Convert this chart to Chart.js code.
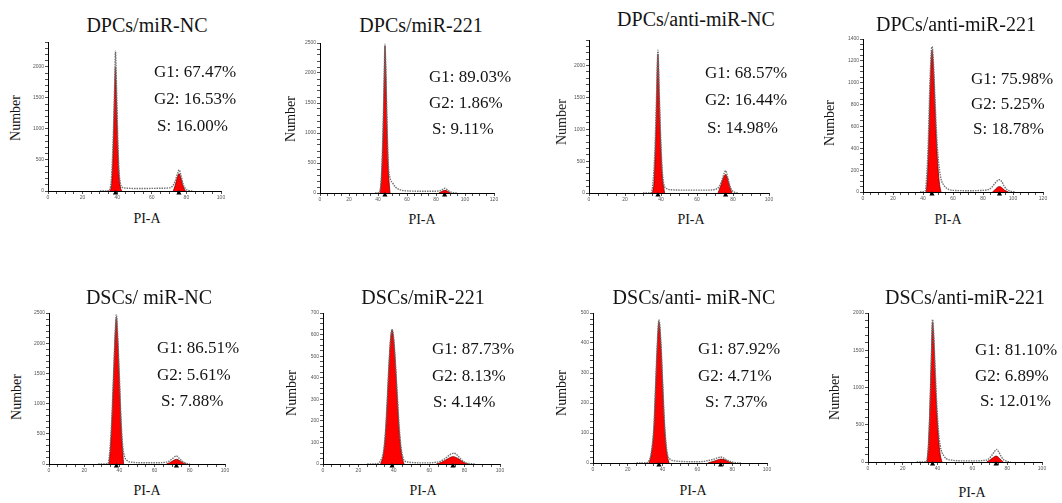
<!DOCTYPE html>
<html>
<head>
<meta charset="utf-8">
<script src="https://cdn.jsdelivr.net/npm/chart.js@4.4.1/dist/chart.umd.min.js"></script>
<style>
  html, body { margin: 0; padding: 0; background: #fff; }
  #page { position: relative; width: 1062px; height: 503px; overflow: hidden; background: #fff; }
  #page canvas { position: absolute; }
  .txt { position: absolute; font-family: "Liberation Serif", "DejaVu Serif", serif; color: #141414; white-space: nowrap; line-height: 1; }
  .title { font-size: 20px; transform: translate(-50%, -50%); }
  .stat { font-size: 17px; transform: translateY(-50%); }
  .xlab { font-size: 14px; transform: translate(-50%, -50%); }
  .ylab { font-size: 14px; transform: translate(-50%, -50%) rotate(-90deg); }
</style>
</head>
<body>
<div id="page"></div>
<script>
// panel titles and cell-cycle percentages
const panelTitles = [
  "DPCs/miR-NC", "DPCs/miR-221", "DPCs/anti-miR-NC", "DPCs/anti-miR-221",
  "DSCs/ miR-NC", "DSCs/miR-221", "DSCs/anti- miR-NC", "DSCs/anti-miR-221",
];
const g1Pct = [67.47, 89.03, 68.57, 75.98, 86.51, 87.73, 87.92, 81.10];
const g2Pct = [16.53, 1.86, 16.44, 5.25, 5.61, 8.13, 4.71, 6.89];
const sPct = [16.00, 9.11, 14.98, 18.78, 7.88, 4.14, 7.37, 12.01];

// axis ranges / tick steps
const xMaxes = [100, 120, 100, 120, 100, 100, 100, 100];
const yMaxes = [2400, 2500, 2400, 1400, 2500, 700, 500, 2000];
const yMajor = [500, 500, 500, 200, 500, 100, 100, 500];
const yMinor = [100, 100, 100, 50, 100, 25, 20, 100];

// G1 / G2 peak markers (PI-A)
const g1Mark = [39, 44.8, 38.3, 46, 38.3, 39, 37.9, 37.1];
const g2Mark = [75.7, 86, 75.9, 91, 72.4, 73.4, 73.4, 73.6];

// histograms: [PI-A, count]
const dpcNcLine = [[30,0],[35,5],[36.5,150],[37.5,700],[38.5,1700],[39,2250],[39.6,1700],[40.3,900],[41,350],[42,110],[43,60],[46,45],[52,40],[60,42],[66,45],[70,50],[72,80],[73.5,160],[75,290],[75.8,340],[76.8,260],[78,120],[79.5,35],[81,10],[84,0]];
const dpcNcG1 = [[35.8,0],[36.8,120],[37.6,600],[38.4,1450],[39,2000],[39.6,1450],[40.3,750],[41,280],[41.8,70],[42.6,0]];
const dpcNcG2 = [[72.4,0],[73.5,90],[74.8,220],[75.7,280],[76.7,220],[78,90],[79.4,0]];

const dpc221Line = [[38,0],[41,10],[42.5,350],[43.5,1100],[44.3,2000],[44.8,2480],[45.5,2000],[46.3,1100],[47.2,450],[48.3,250],[50,170],[52,100],[55,55],[60,35],[70,30],[80,30],[83,40],[85,65],[86,80],[87.5,60],[89.5,25],[92,5],[95,0]];
const dpc221G1 = [[41.4,0],[42.5,300],[43.5,1000],[44.3,1900],[44.8,2450],[45.5,1900],[46.3,1000],[47.2,350],[48.3,0]];
const dpc221G2 = [[82,0],[84,25],[86,45],[88,30],[90,0]];

const dpcAntiNcLine = [[30,0],[34.5,5],[35.5,150],[36.5,600],[37.5,1500],[38.3,2240],[39,1600],[39.8,900],[40.6,400],[41.5,150],[43,70],[46,50],[55,45],[65,45],[70,55],[72,90],[73.5,170],[75,300],[75.9,350],[77,250],[78.3,110],[79.5,40],[81,10],[83,0]];
const dpcAntiNcG1 = [[35.2,0],[36.2,200],[37.2,1000],[38.3,2180],[39,1550],[39.8,800],[40.7,280],[42,0]];
const dpcAntiNcG2 = [[71.7,0],[73,100],[74.6,230],[75.9,290],[77,220],[78.3,90],[79.4,0]];

const dpcAnti221Line = [[38,0],[41.5,10],[42.5,150],[43.5,450],[44.5,950],[45.5,1280],[46,1330],[47,1180],[48,850],[49,550],[50,330],[51,200],[52,120],[54,60],[57,25],[60,15],[70,12],[80,15],[84,25],[86,45],[88,80],[90,108],[91,112],[92.5,95],[94,55],[96,22],[98,8],[101,0]];
const dpcAnti221G1 = [[42.2,0],[43,150],[44,550],[45,1050],[46,1300],[47,1120],[48,780],[49,450],[50,220],[51,70],[52,0]];
const dpcAnti221G2 = [[86.4,0],[88,22],[89.5,42],[91,50],[92.5,40],[94.5,15],[96.9,0]];

const dscNcLine = [[28,0],[33.5,5],[34.5,200],[35.5,650],[36.5,1350],[37.5,2100],[38.3,2470],[39,2150],[40,1450],[41,700],[42,270],[43,120],[44.5,55],[47,30],[55,20],[62,20],[66,28],[68,45],[70,85],[72.4,133],[74,95],[76,40],[78,12],[80,0]];
const dscNcG1 = [[34.1,0],[35,300],[36,900],[37,1700],[38.3,2430],[39,2100],[40,1380],[41,620],[42,150],[42.4,0]];
const dscNcG2 = [[66.7,0],[68.5,20],[70.5,55],[72.4,78],[74,60],[76,22],[78,0]];

const dsc221Line = [[25,0],[31,2],[32.5,15],[34,50],[35,120],[36,250],[37,420],[38,560],[39,625],[40,580],[41,460],[42,320],[43,180],[44,85],[45,35],[46,15],[48,9],[52,6],[58,5],[63,7],[66,12],[68,20],[70,32],[72,45],[74,50],[76,40],[78,22],[80,8],[83,2],[86,0]];
const dsc221G1 = [[32.6,0],[34,40],[35,110],[36,240],[37,410],[38,560],[39,620],[40,570],[41,450],[42,300],[43,160],[44,70],[45,20],[45.8,0]];
const dsc221G2 = [[64,0],[67,8],[70,22],[73.4,34],[76,27],[79,10],[82,0]];

const dscAntiNcLine = [[25,0],[31,1],[32.2,8],[33.5,35],[35,125],[36,265],[37,405],[37.9,478],[39,405],[40,275],[41,145],[42,65],[43,25],[44.5,12],[47,7],[52,5],[58,4],[63,5],[66,8],[69,12],[72,18],[73.4,20],[75,17],[77,10],[79,5],[82,1],[85,0]];
const dscAntiNcG1 = [[32.2,0],[33.5,30],[35,115],[36,255],[37,395],[37.9,470],[39,395],[40,265],[41,135],[42,55],[43,15],[43.7,0]];
const dscAntiNcG2 = [[66,0],[69,5],[72,11],[73.4,13],[76,10],[78,4],[80.5,0]];

const dscAnti221Line = [[28,0],[33.5,5],[34.5,150],[35.5,650],[36.3,1300],[37.1,1910],[37.8,1700],[38.7,1200],[39.6,750],[40.5,420],[41.5,220],[42.5,130],[43.5,85],[45,45],[48,25],[55,15],[62,15],[67,22],[69,35],[71,85],[73,150],[73.8,170],[75,140],[76.5,75],[78,30],[80,8],[82,0]];
const dscAnti221G1 = [[33.9,0],[34.8,250],[35.6,750],[36.4,1400],[37.1,1880],[37.8,1650],[38.7,1100],[39.6,650],[40.5,320],[41.5,100],[42.5,0]];
const dscAnti221G2 = [[68.2,0],[70,25],[72,60],[73.6,80],[75,62],[76.5,25],[77.8,0]];

const lines = [dpcNcLine, dpc221Line, dpcAntiNcLine, dpcAnti221Line, dscNcLine, dsc221Line, dscAntiNcLine, dscAnti221Line];
const g1Fills = [dpcNcG1, dpc221G1, dpcAntiNcG1, dpcAnti221G1, dscNcG1, dsc221G1, dscAntiNcG1, dscAnti221G1];
const g2Fills = [dpcNcG2, dpc221G2, dpcAntiNcG2, dpcAnti221G2, dscNcG2, dsc221G2, dscAntiNcG2, dscAnti221G2];

// page layout: plot box (L,R,T,B) and text anchors
const LAYOUT = [
  { L: 48, R: 221, T: 42, B: 191, title: [147, 25], stats: [[154, 71], [154, 98], [157, 125]], ylab: [16, 118], xlab: [147, 219] },
  { L: 320, R: 494, T: 43, B: 193, title: [421, 25], stats: [[429, 76], [429, 102], [432, 128]], ylab: [291, 119], xlab: [422, 220] },
  { L: 589, R: 769, T: 40, B: 193, title: [696, 19], stats: [[705, 72], [705, 99], [707, 127]], ylab: [562, 122], xlab: [691, 220] },
  { L: 863, R: 1043, T: 39, B: 192, title: [956, 24], stats: [[971, 78], [971, 103], [973, 128]], ylab: [830, 123], xlab: [948, 220] },
  { L: 49, R: 225, T: 313, B: 464, title: [149, 297], stats: [[157, 347], [157, 374], [161, 400]], ylab: [17, 397], xlab: [147, 491] },
  { L: 323, R: 500, T: 313, B: 464, title: [423, 297], stats: [[432, 348], [432, 375], [433, 401]], ylab: [292, 393], xlab: [423, 491] },
  { L: 593, R: 767, T: 313, B: 463, title: [694, 297], stats: [[698, 348], [698, 375], [705, 401]], ylab: [562, 393], xlab: [693, 491] },
  { L: 868, R: 1042, T: 313, B: 462, title: [965, 297], stats: [[975, 349], [975, 375], [980, 400]], ylab: [835, 397], xlab: [972, 493] },
];

const Y_W = 22;
const X_H = 14;
const PAD_T = 6;
const PAD_R = 8;
const MARK_DROP = 2; // px the peak triangles sit below the baseline

Chart.defaults.font.family = "'Liberation Sans', Arial, sans-serif";

const page = document.getElementById("page");

function addText(cls, text, x, y) {
  const el = document.createElement("div");
  el.className = "txt " + cls;
  el.textContent = text;
  el.style.left = x + "px";
  el.style.top = y + "px";
  page.appendChild(el);
}

function axisOptions(max, minor, major, fit) {
  return {
    type: "linear",
    min: 0,
    max: max,
    ticks: {
      stepSize: minor,
      autoSkip: false,
      maxRotation: 0,
      padding: 1,
      color: "#555",
      font: { size: 5 },
      callback: (v) => (v % major === 0 ? String(v) : ""),
    },
    grid: { drawOnChartArea: false, tickLength: 3, color: "#222", lineWidth: 0.8 },
    border: { color: "#000", width: 1 },
    afterFit: fit,
  };
}

function buildPanel(i) {
  const lay = LAYOUT[i];
  const canvas = document.createElement("canvas");
  const w = Y_W + (lay.R - lay.L) + PAD_R;
  const h = PAD_T + (lay.B - lay.T) + X_H;
  canvas.width = w;
  canvas.height = h;
  canvas.style.width = w + "px";
  canvas.style.height = h + "px";
  canvas.style.left = lay.L - Y_W + "px";
  canvas.style.top = lay.T - PAD_T + "px";
  page.appendChild(canvas);

  const peakStyle = {
    backgroundColor: "#ff0000",
    borderColor: "#7a0000",
    borderWidth: 0.8,
    fill: "origin",
    pointRadius: 0,
    cubicInterpolationMode: "monotone",
    order: 2,
  };
  const markY = -MARK_DROP * yMaxes[i] / (lay.B - lay.T);

  new Chart(canvas, {
    type: "line",
    data: {
      datasets: [
        {
          data: [[g1Mark[i], markY], [g2Mark[i], markY]],
          showLine: false,
          pointStyle: "triangle",
          pointRadius: 3,
          backgroundColor: "#000",
          borderColor: "#000",
          borderWidth: 0,
          clip: false,
          order: 0,
        },
        {
          data: lines[i],
          borderColor: "#707070",
          borderWidth: 1.4,
          borderDash: [1.5, 1],
          fill: false,
          pointRadius: 0,
          cubicInterpolationMode: "monotone",
          order: 1,
        },
        { data: g1Fills[i], ...peakStyle },
        { data: g2Fills[i], ...peakStyle },
      ],
    },
    options: {
      responsive: false,
      animation: false,
      events: [],
      layout: { padding: { top: PAD_T, right: PAD_R, left: 0, bottom: 0 } },
      plugins: { legend: { display: false }, tooltip: { enabled: false } },
      scales: {
        x: axisOptions(xMaxes[i], 5, 20, (s) => { s.height = X_H; }),
        y: axisOptions(yMaxes[i], yMinor[i], yMajor[i], (s) => { s.width = Y_W; }),
      },
    },
  });

  addText("title", panelTitles[i], lay.title[0], lay.title[1]);
  addText("stat", "G1: " + g1Pct[i].toFixed(2) + "%", lay.stats[0][0], lay.stats[0][1]);
  addText("stat", "G2: " + g2Pct[i].toFixed(2) + "%", lay.stats[1][0], lay.stats[1][1]);
  addText("stat", "S: " + sPct[i].toFixed(2) + "%", lay.stats[2][0], lay.stats[2][1]);
  addText("ylab", "Number", lay.ylab[0], lay.ylab[1]);
  addText("xlab", "PI-A", lay.xlab[0], lay.xlab[1]);
}

for (let i = 0; i < LAYOUT.length; i++) buildPanel(i);
</script>
</body>
</html>
